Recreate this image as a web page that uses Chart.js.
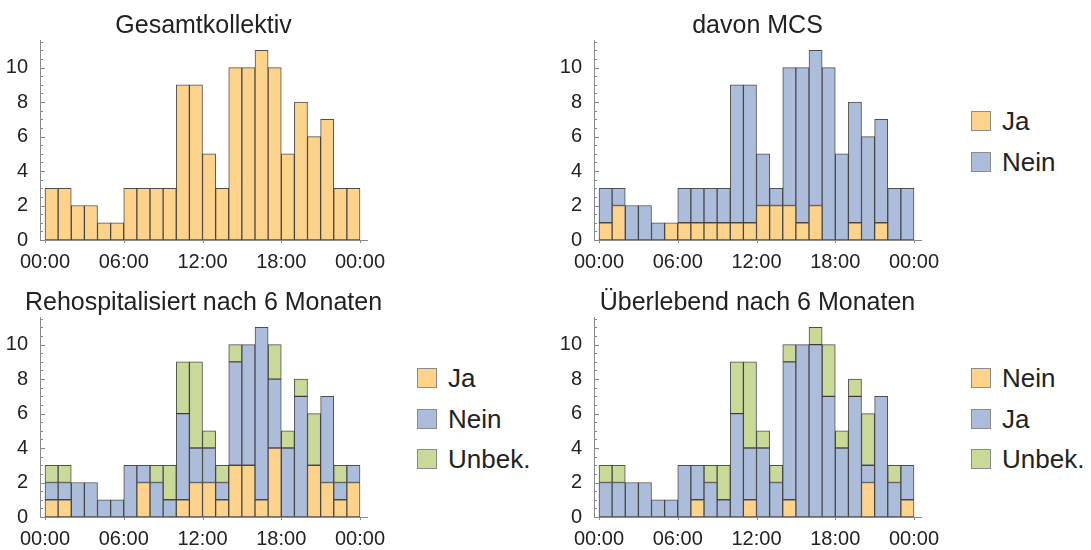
<!DOCTYPE html>
<html>
<head>
<meta charset="utf-8">
<script src="https://cdn.jsdelivr.net/npm/chart.js@4.4.0/dist/chart.umd.min.js"></script>
<style>
  html, body { margin: 0; padding: 0; overflow: hidden; background: #fff; }
  body { width: 1091px; height: 550px; position: relative; font-family: "Liberation Sans", Arial, sans-serif; }
  .panel { position: absolute; width: 400px; height: 280px; }
  .legend { position: absolute; }
  .legend-item { position: absolute; display: flex; align-items: center; white-space: nowrap; }
  .swatch { width: 18px; height: 18px; border: 1px solid #8c8c8c; margin-right: 11px; }
  .legend-item span { font-size: 26px; color: #222; line-height: 20px; }
</style>
</head>
<body>
<div class="panel" style="left:0;top:0"><canvas id="chartGesamt"></canvas></div>
<div class="panel" style="left:554px;top:0"><canvas id="chartMcs"></canvas></div>
<div class="panel" style="left:0;top:277px"><canvas id="chartReho"></canvas></div>
<div class="panel" style="left:554px;top:277px"><canvas id="chartUeber"></canvas></div>
<div class="legend" id="legendMcs" style="left:971px;top:111px"></div>
<div class="legend" id="legendReho" style="left:417px;top:368px"></div>
<div class="legend" id="legendUeber" style="left:971px;top:368px"></div>

<script>
// ===============================
// Daten (Aufnahmen pro Stunde)
// ===============================
const hourStarts = [0, 1, 2, 3, 4, 5, 6, 7, 8, 9, 10, 11, 12, 13, 14, 15, 16, 17, 18, 19, 20, 21, 22, 23];
const xTickValues = [0, 6, 12, 18, 24];
const xTickLabels = ["00:00", "06:00", "12:00", "18:00", "00:00"];
const yTickValues = [0, 2, 4, 6, 8, 10];

const gesamt = [3, 3, 2, 2, 1, 1, 3, 3, 3, 3, 9, 9, 5, 3, 10, 10, 11, 10, 5, 8, 6, 7, 3, 3];

const mcsJa = [1, 2, 0, 0, 0, 1, 1, 1, 1, 1, 1, 1, 2, 2, 2, 1, 2, 0, 0, 1, 0, 1, 0, 0];
const mcsNein = [2, 1, 2, 2, 1, 0, 2, 2, 2, 2, 8, 8, 3, 1, 8, 9, 9, 10, 5, 7, 6, 6, 3, 3];

const rehoJa = [1, 1, 0, 0, 0, 0, 0, 2, 0, 0, 1, 2, 2, 1, 3, 3, 1, 4, 0, 0, 3, 2, 1, 2];
const rehoNein = [1, 1, 2, 2, 1, 1, 3, 1, 2, 1, 5, 2, 2, 1, 6, 7, 10, 4, 4, 7, 0, 5, 1, 1];
const rehoUnbek = [1, 1, 0, 0, 0, 0, 0, 0, 1, 2, 3, 5, 1, 1, 1, 0, 0, 2, 1, 1, 3, 0, 1, 0];

const ueberNein = [0, 0, 0, 0, 0, 0, 0, 1, 0, 0, 0, 1, 0, 0, 1, 0, 0, 0, 0, 0, 2, 0, 0, 1];
const ueberJa = [2, 2, 2, 2, 1, 1, 3, 2, 2, 1, 6, 3, 4, 2, 8, 10, 10, 7, 4, 7, 1, 7, 2, 2];
const ueberUnbek = [1, 1, 0, 0, 0, 0, 0, 0, 1, 2, 3, 5, 1, 1, 1, 0, 1, 3, 1, 1, 3, 0, 1, 0];

const ORANGE = "#fdd38b";
const BLUE = "#abbdda";
const GREEN = "#c8d998";

Chart.defaults.font.family = '"Liberation Sans", Arial, sans-serif';
Chart.defaults.color = "#222";

// ===============================
// Plugin: Titel + Achsenstriche
// ===============================
const panelDecor = {
  id: "panelDecor",
  afterDraw(chart, args, opts) {
    const { ctx, chartArea, scales } = chart;
    const x = scales.x, y = scales.y;
    ctx.save();

    // Titel mittig über der Zeichenfläche
    ctx.fillStyle = "#222";
    ctx.font = '25px "Liberation Sans", Arial, sans-serif';
    ctx.textAlign = "center";
    ctx.textBaseline = "middle";
    ctx.fillText(opts.text, (chartArea.left + chartArea.right) / 2, 26);

    // Striche nach innen an der y-Achse
    ctx.strokeStyle = "#8a8a8a";
    ctx.lineWidth = 1;
    ctx.beginPath();
    for (let v = 0; v <= y.max; v += 0.5) {
      const py = Math.round(y.getPixelForValue(v)) + 0.5;
      const len = yTickValues.includes(v) ? 5 : 3;
      ctx.moveTo(chartArea.left, py);
      ctx.lineTo(chartArea.left + len, py);
    }
    // kleine Striche unter der x-Achse
    xTickValues.forEach((v) => {
      const px = Math.round(x.getPixelForValue(v)) + 0.5;
      ctx.moveTo(px, chartArea.bottom);
      ctx.lineTo(px, chartArea.bottom + 3);
    });
    ctx.stroke();
    ctx.restore();
  },
};

function makeDataset(values, color) {
  return {
    data: values.map((v, i) => ({ x: hourStarts[i] + 0.5, y: v })),
    backgroundColor: color,
    borderColor: "rgba(35,35,35,0.8)",
    borderWidth: 1,
    borderSkipped: false,
    barPercentage: 1,
    categoryPercentage: 1,
  };
}

function makePanel(canvasId, title, datasets) {
  new Chart(document.getElementById(canvasId), {
    type: "bar",
    data: { datasets },
    options: {
      responsive: false,
      animation: false,
      layout: { padding: { top: 40, right: 33, left: 0, bottom: 0 } },
      plugins: {
        legend: { display: false },
        tooltip: { enabled: false },
        panelDecor: { text: title },
      },
      scales: {
        x: {
          type: "linear",
          offset: false,
          stacked: true,
          min: -0.381,
          max: 24.533,
          afterBuildTicks: (s) => { s.ticks = xTickValues.map((v) => ({ value: v })); },
          afterFit: (s) => { s.height = 40; },
          grid: { display: false, drawTicks: false },
          border: { display: true, color: "#8a8a8a", width: 1 },
          ticks: {
            padding: 10,
            maxRotation: 0,
            autoSkip: false,
            font: { size: 20 },
            callback: (v) => xTickLabels[xTickValues.indexOf(v)],
          },
        },
        y: {
          stacked: true,
          min: 0,
          max: 11.6,
          afterBuildTicks: (s) => { s.ticks = yTickValues.map((v) => ({ value: v })); },
          afterFit: (s) => { s.width = 40; },
          grid: { display: false, drawTicks: false },
          border: { display: true, color: "#8a8a8a", width: 1 },
          ticks: { padding: 12, font: { size: 20 } },
        },
      },
    },
    plugins: [panelDecor],
  });
}

function makeLegend(elId, items) {
  const el = document.getElementById(elId);
  el.innerHTML = items
    .map(
      (it, i) => `
      <div class="legend-item" style="top:${i * 40.5}px">
        <div class="swatch" style="background:${it.color}"></div><span>${it.label}</span>
      </div>`
    )
    .join("");
}

document.querySelectorAll("canvas").forEach((c) => { c.width = 400; c.height = 280; });

makePanel("chartGesamt", "Gesamtkollektiv", [makeDataset(gesamt, ORANGE)]);
makePanel("chartMcs", "davon MCS", [makeDataset(mcsJa, ORANGE), makeDataset(mcsNein, BLUE)]);
makePanel("chartReho", "Rehospitalisiert nach 6 Monaten", [
  makeDataset(rehoJa, ORANGE), makeDataset(rehoNein, BLUE), makeDataset(rehoUnbek, GREEN),
]);
makePanel("chartUeber", "Überlebend nach 6 Monaten", [
  makeDataset(ueberNein, ORANGE), makeDataset(ueberJa, BLUE), makeDataset(ueberUnbek, GREEN),
]);

makeLegend("legendMcs", [{ label: "Ja", color: ORANGE }, { label: "Nein", color: BLUE }]);
makeLegend("legendReho", [
  { label: "Ja", color: ORANGE }, { label: "Nein", color: BLUE }, { label: "Unbek.", color: GREEN },
]);
makeLegend("legendUeber", [
  { label: "Nein", color: ORANGE }, { label: "Ja", color: BLUE }, { label: "Unbek.", color: GREEN },
]);
</script>
</body>
</html>
